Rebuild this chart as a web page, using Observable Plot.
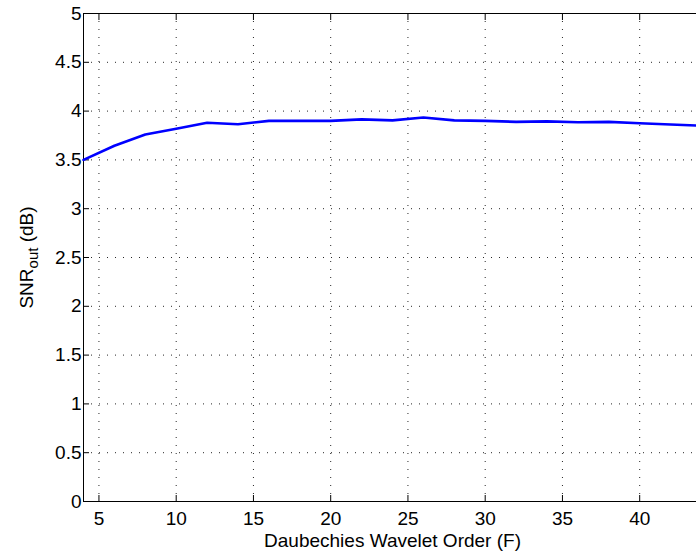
<!DOCTYPE html>
<html>
<head>
<meta charset="utf-8">
<script src="https://cdn.jsdelivr.net/npm/d3@7"></script>
<script src="https://cdn.jsdelivr.net/npm/@observablehq/plot@0.6"></script>
<style>
  html, body { margin: 0; padding: 0; background: #fff; overflow: hidden; }
  svg { max-width: none !important; display: block; }
</style>
</head>
<body>
<div id="chart"></div>
<script>
const waveletOrder = [4, 6, 8, 10, 12, 14, 16, 18, 20, 22, 24, 26, 28, 30, 32, 34, 36, 38, 40, 42, 44];
const snrOut = [3.50, 3.645, 3.76, 3.82, 3.88, 3.865, 3.90, 3.90, 3.90, 3.915, 3.905, 3.935, 3.905, 3.90, 3.89, 3.895, 3.885, 3.89, 3.875, 3.862, 3.85];
const xTicks = [5, 10, 15, 20, 25, 30, 35, 40];
const yTicks = [0, 0.5, 1, 1.5, 2, 2.5, 3, 3.5, 4, 4.5, 5];
const xLabel = "Daubechies Wavelet Order (F)";
const yLabel = "SNR";
const yLabelSub = "out";
const yLabelTail = " (dB)";

const data = waveletOrder.map((x, i) => ({x, y: snrOut[i]}));
const fmt = d => String(d);
const font = "'Liberation Sans', Arial, Helvetica, sans-serif";
const fs = 19;

const chart = Plot.plot({
  width: 701,
  height: 556,
  marginLeft: 83,
  marginRight: 0,
  marginTop: 13,
  marginBottom: 55,
  style: {fontFamily: font, fontSize: fs + "px", color: "#000", background: "#fff"},
  x: {domain: [4, 44]},
  y: {domain: [0, 5]},
  marks: [
    Plot.gridX(xTicks, {stroke: "#000", strokeOpacity: 0.85, strokeDasharray: "1,7"}),
    Plot.gridY(yTicks, {stroke: "#000", strokeOpacity: 0.85, strokeDasharray: "1,7"}),
    Plot.frame({stroke: "#000", strokeWidth: 1}),
    Plot.axisX(xTicks, {anchor: "bottom", tickSize: 0, tickPadding: 10, tickFormat: fmt, fontSize: fs, label: null}),
    Plot.axisX(xTicks, {anchor: "bottom", tickSize: -6, tickFormat: () => "", label: null}),
    Plot.axisX(xTicks, {anchor: "top", tickSize: -6, tickFormat: () => "", label: null}),
    Plot.axisY(yTicks, {anchor: "left", tickSize: 0, tickPadding: 2, tickFormat: fmt, fontSize: fs, label: null}),
    Plot.axisY(yTicks, {anchor: "left", tickSize: -6, tickFormat: () => "", label: null}),
    Plot.lineY(data, {x: "x", y: "y", stroke: "#0000ff", strokeWidth: 2.6}),
    Plot.text([xLabel], {frameAnchor: "bottom", lineAnchor: "top", dy: 32, fontSize: fs, fill: "#000"}),
    Plot.text([yLabel], {frameAnchor: "left", textAnchor: "middle", rotate: -90, dx: -57, fontSize: fs, fill: "#000", className: "ylab"})
  ]
});

document.getElementById("chart").appendChild(chart);

// add subscript to the y label
const t = d3.select(chart).select("g.ylab text");
if (!t.empty()) {
  t.text(null);
  t.append("tspan").text(yLabel);
  t.append("tspan").attr("baseline-shift", "-30%").attr("font-size", "15px").text(yLabelSub);
  t.append("tspan").text(yLabelTail);
}
</script>
</body>
</html>
